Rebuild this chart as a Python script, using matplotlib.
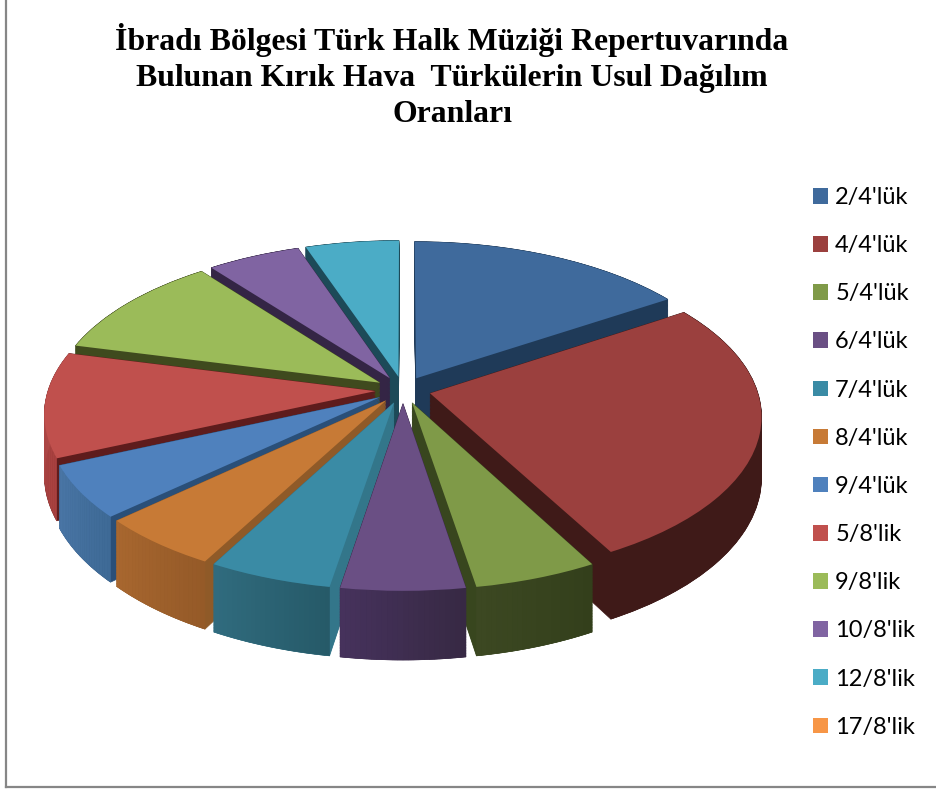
import numpy as np
import matplotlib
matplotlib.use("Agg")
import matplotlib.pyplot as plt
from matplotlib.lines import Line2D
from matplotlib.patches import Wedge
from matplotlib.transforms import Transform
from matplotlib.colors import to_rgb

title = "İbradı Bölgesi Türk Halk Müziği Repertuvarında\nBulunan Kırık Hava  Türkülerin Usul Dağılım\nOranları"
labels = ["2/4'lük", "4/4'lük", "5/4'lük", "6/4'lük", "7/4'lük", "8/4'lük",
          "9/4'lük", "5/8'lik", "9/8'lik", "10/8'lik", "12/8'lik", "17/8'lik"]
counts = [6, 10, 2, 2, 2, 2, 2, 4, 4, 2, 2, 0]

top_colors = ["#3f6a9c", "#9b403e", "#7f9a48", "#6a4f84", "#3a8ba5", "#c77a36",
              "#4f81bd", "#c0504d", "#9bbb59", "#8064a2", "#4bacc6", "#f79646"]
cut_colors = ["#1f3a58", "#3f1a18", "#38461e", "#3b2a4a", "#33768a", "#8f5a28",
              "#2a4f78", "#5e1c1c", "#3f4a1e", "#342545", "#1d4a58", "#f79646"]
wall_left = ["#1f3a58", "#3f1a18", "#3c4822", "#46325c", "#306b7e", "#a8672f",
             "#4a76a6", "#b04c4a", "#3f4a1e", "#342545", "#1d4a58", "#f79646"]
wall_right = ["#1f3a58", "#3f1a18", "#333f1b", "#372944", "#265a68", "#955a28",
              "#3e6a96", "#a8403f", "#3f4a1e", "#342545", "#1d4a58", "#f79646"]

explode_by = 0.085
CX, CY = 403, 390
RX, RY = 327, 158
HEIGHT = 59
PERSP = 0.135


def project(x, y, z):
    s = 1 / (1 + PERSP * y)
    return CX + RX * x * s, CY - (RY * y - HEIGHT * z) * s


class Project(Transform):
    input_dims = 2
    output_dims = 2

    def __init__(self, z):
        super().__init__()
        self.z = z

    def transform_non_affine(self, values):
        px, py = project(values[:, 0], values[:, 1], self.z)
        return np.column_stack([px, py])


fig = plt.figure(figsize=(9.36, 7.89), dpi=100, facecolor="white")
ax = fig.add_axes([0, 0, 1, 1])

wedges, _ = ax.pie(counts, explode=[explode_by] * len(counts), startangle=90,
                   counterclock=False, colors=top_colors, radius=1,
                   wedgeprops={"linewidth": 0})
ax.set_aspect("auto")

# back slices first, front ones last
order = sorted([i for i in range(len(counts)) if counts[i] > 0],
               key=lambda i: -np.sin(np.radians((wedges[i].theta1 + wedges[i].theta2) / 2)))
z_layers = np.linspace(1, 0, 45)

for n, i in enumerate(order):
    w = wedges[i]
    base = n * 10 + 1
    for z in z_layers:
        ax.add_patch(Wedge(w.center, w.r, w.theta1, w.theta2, facecolor=cut_colors[i],
                           edgecolor=cut_colors[i], linewidth=0.5, clip_on=False,
                           transform=Project(z) + ax.transData, zorder=base))
    # outer wall, shaded in narrow strips
    angles = np.radians(np.linspace(w.theta2, w.theta1, 25))
    c0, c1 = np.array(to_rgb(wall_right[i])), np.array(to_rgb(wall_left[i]))
    for j in range(len(angles) - 1):
        a = angles[j:j + 2]
        x = w.center[0] + w.r * np.cos(a)
        y = w.center[1] + w.r * np.sin(a)
        xt, yt = project(x, y, 0)
        xb, yb = project(x, y, 1)
        col = c0 + (c1 - c0) * j / (len(angles) - 2)
        ax.fill(np.r_[xt, xb[::-1]], np.r_[yt, yb[::-1]], color=col, linewidth=0.4,
                clip_on=False, zorder=base + 1)
    w.set_transform(Project(0) + ax.transData)
    w.set_zorder(base + 2)

ax.set_xlim(0, 936)
ax.set_ylim(789, 0)
ax.axis("off")

fig.text(452 / 936, 1 - 76 / 789, title, ha="center", va="center", fontsize=22.9,
         fontweight="bold", family="Liberation Serif", color="black", linespacing=1.3)

ax.legend(wedges, labels, loc="upper left", bbox_to_anchor=(813 / 936, 1 - 187 / 789),
          frameon=False, prop={"family": "Lato", "size": 17}, handlelength=0.64,
          handleheight=0.64, handletextpad=0.3, labelspacing=1.15, borderpad=0,
          borderaxespad=0)

border = "#868686"
fig.add_artist(Line2D([5.5 / 936, 5.5 / 936], [1 - 787 / 789, 1], color=border, lw=1.6))
fig.add_artist(Line2D([5.5 / 936, 1], [1 - 787 / 789, 1 - 787 / 789], color=border, lw=1.6))

fig.savefig("out.png", dpi=100)
